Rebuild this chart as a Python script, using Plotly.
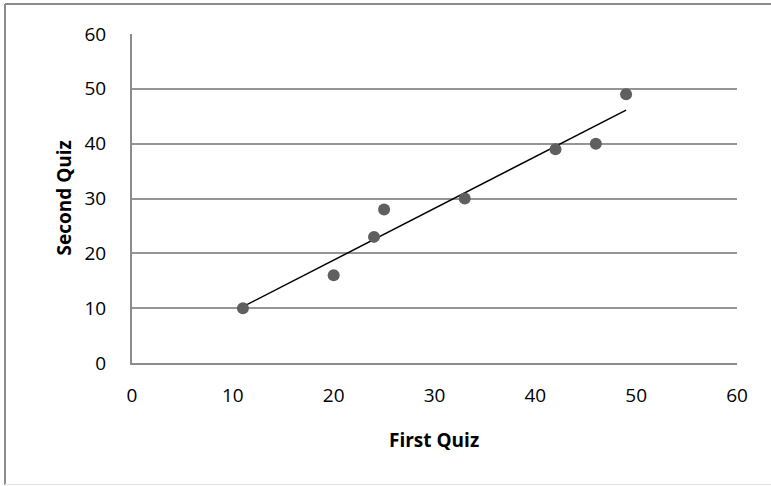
import numpy as np
import plotly.graph_objects as go

first_quiz = [11, 20, 24, 25, 33, 42, 46, 49]
second_quiz = [10, 16, 23, 28, 30, 39, 40, 49]
x_title = "First Quiz"
y_title = "Second Quiz"
tick_vals = [0, 10, 20, 30, 40, 50, 60]

slope, intercept = np.polyfit(first_quiz, second_quiz, 1)
tx = [min(first_quiz), max(first_quiz)]
ty = [slope * v + intercept for v in tx]

font = "Open Sans, Liberation Sans, sans-serif"
PW, PH = 605, 329  # plot area size in px

fig = go.Figure()
fig.add_trace(go.Scatter(x=tx, y=ty, mode="lines",
                         line=dict(color="black", width=1.5), hoverinfo="skip"))
fig.add_trace(go.Scatter(x=first_quiz, y=second_quiz, mode="markers",
                         marker=dict(color="#5f5f5f", size=12)))

border = "#8c8c8c"
fig.update_layout(
    width=771, height=486,
    margin=dict(l=132, r=34, t=34, b=123),
    paper_bgcolor="white", plot_bgcolor="white",
    showlegend=False,
    font=dict(family=font, size=19, color="black"),
    xaxis=dict(range=[0, 60], tickvals=tick_vals, showgrid=False,
               showline=True, linecolor=border, linewidth=2,
               zeroline=False, ticks="", ticklabelstandoff=14,
               tickfont=dict(size=19)),
    yaxis=dict(range=[0, 60], tickvals=tick_vals, showgrid=True,
               gridcolor="#959595", gridwidth=1.5,
               showline=True, linecolor=border, linewidth=2,
               zeroline=False, ticks="", ticklabelstandoff=20,
               tickfont=dict(size=19)),
    shapes=[
        dict(type="line", xref="paper", yref="paper",
             x0=-127 / PW, x1=1.1, y0=1 + 30 / PH, y1=1 + 30 / PH,
             line=dict(color=border, width=2)),
        dict(type="line", xref="paper", yref="paper",
             x0=-127 / PW, x1=-127 / PW, y0=-122 / PH, y1=1 + 30 / PH,
             line=dict(color=border, width=2)),
        dict(type="line", xref="paper", yref="paper",
             x0=-127 / PW, x1=1.1, y0=-121.5 / PH, y1=-121.5 / PH,
             line=dict(color="#e8e8e8", width=1.5)),
    ],
    annotations=[
        dict(text="<b>" + x_title + "</b>", xref="paper", yref="paper",
             x=(434 - 132) / PW, y=-77 / PH, xanchor="center", yanchor="middle",
             showarrow=False, font=dict(size=19)),
        dict(text="<b>" + y_title + "</b>", xref="paper", yref="paper",
             x=-69 / PW, y=0.5, xanchor="center", yanchor="middle",
             textangle=-90, showarrow=False, font=dict(size=19)),
    ],
)

fig.write_html("out.html", config={"displayModeBar": False},
               post_script="document.body.style.margin='0';")
